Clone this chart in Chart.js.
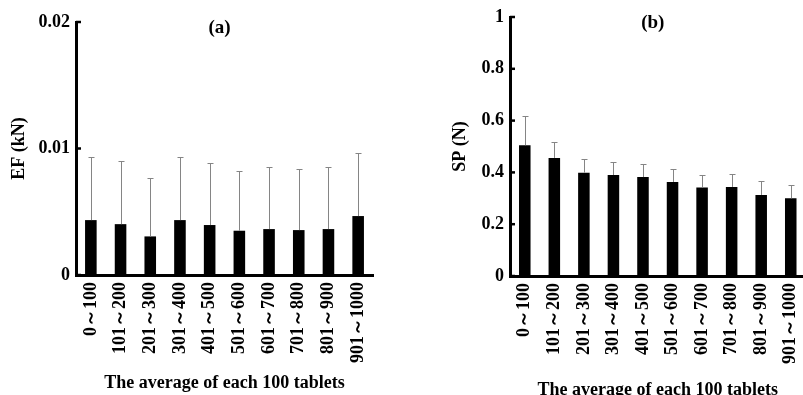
<!DOCTYPE html>
<html>
<head>
<meta charset="utf-8">
<script src="https://cdn.jsdelivr.net/npm/chart.js@4/dist/chart.umd.min.js"></script>
<style>
  html, body { margin: 0; padding: 0; background: #fff; overflow: hidden; width: 803px; height: 395px; }
  .panel { position: absolute; top: 0; }
  #wrapA { left: 0; width: 400px; height: 395px; }
  #wrapB { left: 400px; width: 420px; height: 402px; }
</style>
</head>
<body>
<div class="panel" id="wrapA"><canvas id="chartA" width="400" height="395"></canvas></div>
<div class="panel" id="wrapB"><canvas id="chartB" width="420" height="402"></canvas></div>
<script>
// -------------------------
// DATA
// -------------------------
const categories = ['0～100', '101～200', '201～300', '301～400', '401～500',
                    '501～600', '601～700', '701～800', '801～900', '901～1000'];

// (a) EF in kN, mean and standard deviation (upper bar only)
const efMean = [0.00434, 0.00402, 0.00305, 0.00434, 0.00395, 0.00350, 0.00363, 0.00355, 0.00363, 0.00466];
const efSd   = [0.00500, 0.00498, 0.00461, 0.00500, 0.00494, 0.00476, 0.00489, 0.00482, 0.00489, 0.00502];
const efTicks = [0, 0.01, 0.02];

// (b) SP in N
const spMean = [0.505, 0.456, 0.399, 0.390, 0.382, 0.363, 0.342, 0.344, 0.313, 0.300];
const spSd   = [0.112, 0.062, 0.053, 0.052, 0.051, 0.050, 0.048, 0.050, 0.054, 0.053];
const spTicks = [0, 0.2, 0.4, 0.6, 0.8, 1];

const xTitle = 'The average of each 100 tablets';

// -------------------------
// PLUGINS
// -------------------------
const serif = '"Liberation Serif", "Times New Roman", serif';

// thin grey upper error bars with small caps
const errorBars = {
    id: 'errorBars',
    afterDatasetsDraw(chart, args, opts) {
        const meta = chart.getDatasetMeta(0);
        const y = chart.scales.y;
        const ctx = chart.ctx;
        ctx.save();
        ctx.strokeStyle = '#858585';
        ctx.lineWidth = 1;
        meta.data.forEach((bar, i) => {
            const top = Math.round(y.getPixelForValue(opts.mean[i] + opts.sd[i])) + 0.5;
            const x = Math.round(bar.x) + 0.5;
            ctx.beginPath();
            ctx.moveTo(x, bar.y);
            ctx.lineTo(x, top);
            ctx.moveTo(x - 3, top);
            ctx.lineTo(x + 3, top);
            ctx.stroke();
        });
        ctx.restore();
    }
};

// panel letter and inward tick marks on the y axis
const panelDecor = {
    id: 'panelDecor',
    afterDraw(chart, args, opts) {
        const { ctx, chartArea, scales } = chart;
        ctx.save();
        ctx.fillStyle = '#000';
        ctx.font = 'bold 19px ' + serif;
        ctx.textAlign = 'center';
        ctx.textBaseline = 'middle';
        ctx.fillText(opts.label, (chartArea.left + chartArea.right) / 2 - 5, chartArea.top + 6);

        ctx.strokeStyle = '#000';
        ctx.lineWidth = 2.5;
        scales.y.ticks.forEach(t => {
            const py = scales.y.getPixelForValue(t.value);
            ctx.beginPath();
            ctx.moveTo(chartArea.left, py);
            ctx.lineTo(chartArea.left + 5, py);
            ctx.stroke();
        });
        ctx.restore();
    }
};

// -------------------------
// CHART BUILDER
// -------------------------
function buildPanel(id, cfg) {
    const font = { family: serif, size: 18, weight: 'bold' };
    return new Chart(document.getElementById(id), {
        type: 'bar',
        data: {
            labels: categories,
            datasets: [{
                data: cfg.mean,
                backgroundColor: '#000',
                barPercentage: 0.39,
                categoryPercentage: 1
            }]
        },
        options: {
            responsive: false,
            animation: false,
            layout: { padding: cfg.padding },
            plugins: {
                legend: { display: false },
                tooltip: { enabled: false },
                errorBars: { mean: cfg.mean, sd: cfg.sd },
                panelDecor: { label: cfg.label }
            },
            scales: {
                x: {
                    grid: { display: false, drawTicks: false },
                    border: { color: '#000', width: 3 },
                    ticks: { color: '#000', font: font, padding: 7, minRotation: 90, maxRotation: 90, autoSkip: false },
                    title: { display: true, text: xTitle, color: '#000', font: font, padding: { top: 0, bottom: 1 } },
                    afterFit: s => { s.height = cfg.xHeight; }
                },
                y: {
                    min: 0,
                    max: cfg.ticks[cfg.ticks.length - 1],
                    afterBuildTicks: s => { s.ticks = cfg.ticks.map(v => ({ value: v })); },
                    grid: { display: false, drawTicks: false },
                    border: { color: '#000', width: 3 },
                    ticks: { color: '#000', font: font, padding: 6, callback: v => String(v) },
                    title: { display: true, text: cfg.yTitle, color: '#000', font: font, padding: { top: 9, bottom: 0 } },
                    afterFit: s => { s.width = cfg.yWidth; }
                }
            }
        },
        plugins: [errorBars, panelDecor]
    });
}

buildPanel('chartA', {
    label: '(a)', yTitle: 'EF (kN)',
    mean: efMean, sd: efSd, ticks: efTicks,
    padding: { left: 0, top: 22, right: 27, bottom: 0 },
    yWidth: 76, xHeight: 120
});

buildPanel('chartB', {
    label: '(b)', yTitle: 'SP (N)',
    mean: spMean, sd: spSd, ticks: spTicks,
    padding: { left: 41, top: 17, right: 13, bottom: 0 },
    yWidth: 69, xHeight: 126
});
</script>
</body>
</html>
